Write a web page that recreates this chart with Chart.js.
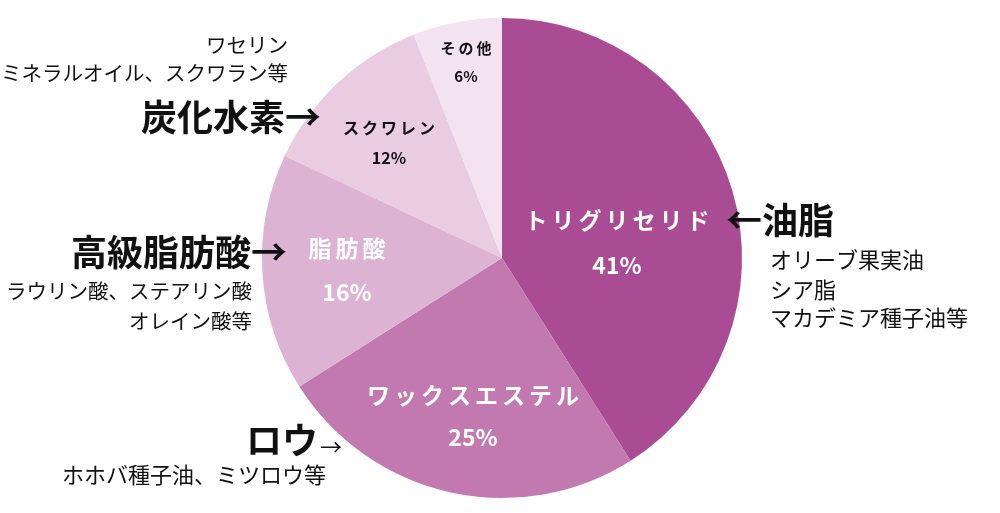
<!DOCTYPE html>
<html>
<head>
<meta charset="utf-8">
<script src="https://cdn.jsdelivr.net/npm/chart.js@4/dist/chart.umd.min.js"></script>
<style>
  body { margin: 0; background: #fff; }
  #wrap { position: relative; width: 1000px; height: 513px; }
</style>
</head>
<body>
<div id="wrap"><canvas id="pie" width="1000" height="513"></canvas></div>
<script>
const categories = ["トリグリセリド", "ワックスエステル", "脂肪酸", "スクワレン", "その他"];
const shares = [41, 25, 16, 12, 6];
const sliceColors = ["#AA4C94", "#C179B0", "#DDB3D3", "#E9CBE2", "#F3E2EF"];

// label placement inside slices (text centre, colour, size, letter spacing)
const inner = [
  { x: 617, y: 220, dy: 45, color: "#fff", size: 23, sp: 4 },
  { x: 473, y: 395, dy: 42, color: "#fff", size: 23, sp: 4 },
  { x: 347, y: 248, dy: 44, color: "#fff", size: 23, sp: 4 },
  { x: 389, y: 128, dy: 30, color: "#111", size: 16, sp: 3 },
  { x: 466, y: 48, dy: 28, color: "#111", size: 15, sp: 3 }
];

const FONT = '"Noto Sans CJK JP", "Noto Sans", sans-serif';

// callouts outside the pie
const callouts = [
  { text: "炭化水素→", x: 321, y: 117, align: "right", size: 36, bold: true },
  { text: "ワセリン", x: 288, y: 45, align: "right", size: 20.5 },
  { text: "ミネラルオイル、スクワラン等", x: 288, y: 73, align: "right", size: 20.5 },
  { text: "高級脂肪酸→", x: 287, y: 252, align: "right", size: 36, bold: true },
  { text: "ラウリン酸、ステアリン酸", x: 252, y: 291, align: "right", size: 20.5 },
  { text: "オレイン酸等", x: 252, y: 321, align: "right", size: 20.5 },
  { text: "←油脂", x: 726, y: 220, align: "left", size: 36, bold: true },
  { text: "オリーブ果実油", x: 770, y: 260, align: "left", size: 22 },
  { text: "シア脂", x: 770, y: 290, align: "left", size: 22 },
  { text: "マカデミア種子油等", x: 770, y: 318, align: "left", size: 22 },
  { text: "ロウ", x: 318, y: 440, align: "right", size: 36, bold: true },
  { text: "→", x: 320, y: 447, align: "left", size: 22 },
  { text: "ホホバ種子油、ミツロウ等", x: 62, y: 475, align: "left", size: 22 }
];

const labelPlugin = {
  id: "labels",
  afterDatasetsDraw(chart) {
    const c = chart.ctx;
    c.save();
    c.textBaseline = "middle";
    c.textAlign = "center";
    categories.forEach((name, i) => {
      const p = inner[i];
      c.fillStyle = p.color;
      c.font = "bold " + p.size + "px " + FONT;
      c.letterSpacing = p.sp + "px";
      c.fillText(name, p.x + p.sp / 2, p.y);
      c.letterSpacing = "0px";
      c.fillText(shares[i] + "%", p.x, p.y + p.dy);
    });
    callouts.forEach(t => {
      c.fillStyle = "#111";
      c.textAlign = t.align;
      c.font = (t.bold ? "bold " : "") + t.size + "px " + FONT;
      c.fillText(t.text, t.x, t.y);
    });
    c.restore();
  }
};

new Chart(document.getElementById("pie").getContext("2d"), {
  type: "pie",
  data: {
    labels: categories,
    datasets: [{
      data: shares,
      backgroundColor: sliceColors,
      borderWidth: 0
    }]
  },
  options: {
    responsive: false,
    animation: false,
    layout: { padding: { left: 262, right: 258, top: 18, bottom: 15 } },
    plugins: {
      legend: { display: false },
      tooltip: { enabled: false }
    }
  },
  plugins: [labelPlugin]
});
</script>
</body>
</html>
